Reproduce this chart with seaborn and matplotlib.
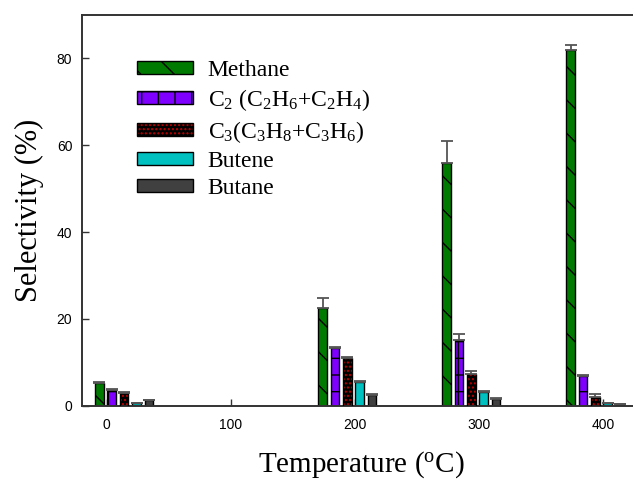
import numpy as np
import pandas as pd
import matplotlib
matplotlib.use("Agg")
import matplotlib.pyplot as plt
from matplotlib.patches import Patch, Rectangle
import seaborn as sns

# ---------------- data ----------------
temperatures = [20, 200, 300, 400]
methane = [5.2, 22.6, 55.8, 82.0]
methane_err = [0.2, 2.1, 5.2, 1.2]
c2 = [3.6, 13.4, 15.1, 6.9]
c2_err = [0.2, 0.2, 1.5, 0.2]
c3 = [2.9, 11.0, 7.3, 2.1]
c3_err = [0.2, 0.3, 0.8, 0.5]
butene = [0.6, 5.5, 3.1, 0.6]
butene_err = [0.1, 0.2, 0.2, 0.1]
butane = [1.3, 2.5, 1.5, 0.3]
butane_err = [0.1, 0.1, 0.2, 0.1]
legend_labels = ["Methane",
                 "C$_2$ (C$_2$H$_6$+C$_2$H$_4$)",
                 "C$_3$(C$_3$H$_8$+C$_3$H$_6$)",
                 "Butene",
                 "Butane"]
x_ticks = [0, 100, 200, 300, 400]
y_ticks = [0, 20, 40, 60, 80]

values = [methane, c2, c3, butene, butane]
errors = [methane_err, c2_err, c3_err, butene_err, butane_err]

# ---------------- style ----------------
sns.set_style("ticks")
plt.rcParams["font.family"] = ["Liberation Sans", "DejaVu Sans"]
plt.rcParams["text.color"] = "black"
plt.rcParams["axes.labelcolor"] = "black"
plt.rcParams["mathtext.fontset"] = "custom"
plt.rcParams["mathtext.rm"] = "Liberation Serif"
plt.rcParams["mathtext.default"] = "regular"
plt.rcParams["hatch.linewidth"] = 1.0

offsets = [-26, -16, -6, 4, 14]
facecolors = ["#007A00", "#8000FF", "#000000", "#00C0C0", "#404040"]
hatch_edges = ["black", "black", "#C00000", "black", "black"]
hatches = ["\\", "+", "....", None, None]
edge_lw = [1.0, 1.0, 0.0, 1.0, 1.0]

fig = plt.figure(figsize=(6.33, 4.79), dpi=100)
ax = fig.add_axes([82 / 633, 73.3 / 479, 558 / 633, 390.7 / 479])

for i in range(5):
    xs = np.array(temperatures, dtype=float) + offsets[i]
    kw = dict(edgecolor=hatch_edges[i], linewidth=edge_lw[i])
    if hatches[i]:
        kw["hatch"] = hatches[i]
    sns.barplot(x=xs, y=values[i], native_scale=True, orient="x", width=0.07,
                color=facecolors[i], saturation=1, errorbar=None, ax=ax,
                zorder=2, **kw)
    cont = ax.containers[-1]
    if edge_lw[i] == 0:
        for p in cont.patches:
            ax.add_patch(Rectangle(p.get_xy(), p.get_width(), p.get_height(),
                                   fill=False, edgecolor="black", linewidth=1.0,
                                   zorder=3))
    ax.errorbar(xs, values[i], yerr=[np.zeros(len(xs)), errors[i]], fmt="none",
                ecolor="#555555", elinewidth=1.3, capsize=4, capthick=1.3,
                zorder=4)

ax.set_xlim(-20, 430)
ax.set_ylim(0, 90)
ax.set_xticks(x_ticks)
ax.set_yticks(y_ticks)
ax.set_xticklabels([str(t) for t in x_ticks])
ax.set_yticklabels([str(t) for t in y_ticks])
ax.tick_params(axis="both", direction="in", length=5, width=1, color="#333333",
               labelsize=10, labelcolor="black")
ax.tick_params(axis="x", pad=9)
ax.tick_params(axis="y", pad=7)
for s in ["left", "bottom", "top"]:
    ax.spines[s].set_linewidth(1.4)
    ax.spines[s].set_color("#333333")
ax.spines["right"].set_visible(False)

ax.set_xlabel("Temperature ($^{o}$C)", fontsize=21, family="Liberation Serif",
              labelpad=12)
ax.set_ylabel("Selectivity (%)", fontsize=22, family="Liberation Serif",
              labelpad=9)

handles = []
for i in range(5):
    if edge_lw[i] == 0:
        h = (Patch(facecolor=facecolors[i], edgecolor=hatch_edges[i],
                   hatch=hatches[i], linewidth=0),
             Patch(fill=False, edgecolor="black", linewidth=1.0))
    else:
        h = Patch(facecolor=facecolors[i], edgecolor=hatch_edges[i],
                  hatch=hatches[i], linewidth=1.0)
    handles.append(h)

leg = ax.legend(handles, legend_labels, loc="upper left",
                bbox_to_anchor=(0.098, 0.885), frameon=False,
                prop={"family": "Liberation Serif", "size": 17},
                handlelength=2.4, handleheight=0.47, handletextpad=0.6,
                labelspacing=0.26, borderpad=0, borderaxespad=0)

fig.savefig("out.png", dpi=100)
